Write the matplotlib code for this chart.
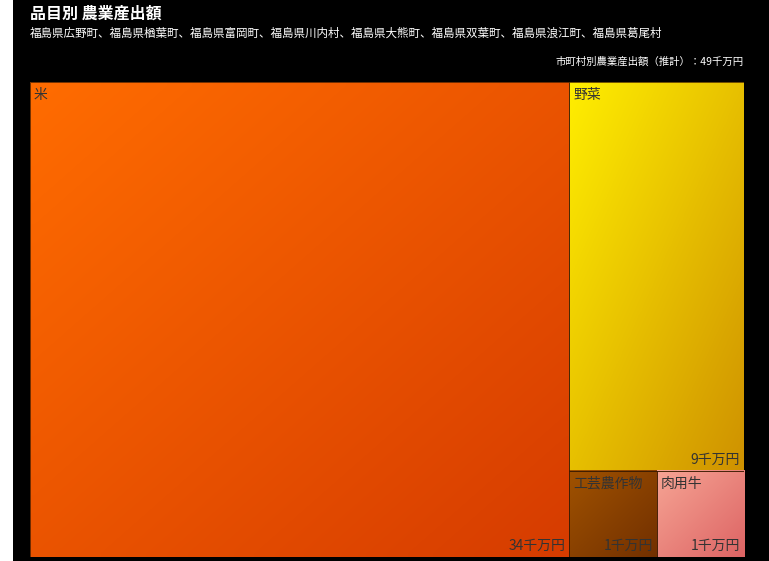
import matplotlib.pyplot as plt
import numpy as np
from matplotlib.colors import LinearSegmentedColormap
from matplotlib.patches import Rectangle

plt.rcParams['font.family'] = ['Noto Sans CJK JP', 'DejaVu Sans']

items = ['米', '野菜', '工芸農作物', '肉用牛']
values = [34, 9, 1, 1]
value_labels = ['34千万円', '9千万円', '1千万円', '1千万円']
# (top-left, bottom-right) gradient colours
grad_colors = [('#ff6c00', '#d63c00'),
               ('#ffee00', '#cf9200'),
               ('#a05200', '#723000'),
               ('#f6a494', '#dd6464')]

title = '品目別 農業産出額'
subtitle = ('福島県広野町、福島県楢葉町、福島県富岡町、福島県川内村、福島県大熊町、'
            '福島県双葉町、福島県浪江町、福島県葛尾村')
total_label = '市町村別農業産出額（推計）：49千万円'

W, H = 769, 561
box = (30, 82, 714, 475)  # left, top, width, height in pixels


def worst(row, side):
    s = sum(row)
    return max(max(side * side * r / (s * s), s * s / (side * side * r)) for r in row)


def squarify(vals, x, y, w, h):
    # vals already scaled to area
    rects = []
    vals = list(vals)
    while vals:
        side = min(w, h)
        row = [vals.pop(0)]
        while vals and worst(row + [vals[0]], side) <= worst(row, side):
            row.append(vals.pop(0))
        s = sum(row)
        if w >= h:
            rw = s / h
            yy = y
            for r in row:
                rh = r / rw
                rects.append((x, yy, rw, rh))
                yy += rh
            x += rw
            w -= rw
        else:
            rh = s / w
            xx = x
            for r in row:
                rw = r / rh
                rects.append((xx, y, rw, rh))
                xx += rw
            y += rh
            h -= rh
    return rects


fig = plt.figure(figsize=(W / 100, H / 100), dpi=100, facecolor='black')
fig.patches.append(Rectangle((0, 0), 13 / W, 1, transform=fig.transFigure,
                             facecolor='white', edgecolor='none'))

ax = fig.add_axes([box[0] / W, 1 - (box[1] + box[3]) / H, box[2] / W, box[3] / H])
ax.axis('off')

total = sum(values)
areas = [v / total * box[2] * box[3] for v in values]
rects = squarify(areas, 0, 0, box[2], box[3])

for (x, y, w, h), name, lab, (c1, c2) in zip(rects, items, value_labels, grad_colors):
    cmap = LinearSegmentedColormap.from_list('g', [c1, c2])
    gx, gy = np.meshgrid(np.linspace(0, 1, 64), np.linspace(0, 1, 64))
    ax.imshow((gx + gy) / 2, cmap=cmap, extent=(x, x + w, y + h, y),
              aspect='auto', interpolation='bilinear', vmin=0, vmax=1)
    ax.add_patch(Rectangle((x, y), w, h, facecolor='none', edgecolor='#3a1a00',
                           linewidth=0.5))
    ax.text(x + 4, y + 6, name, color='#333333', fontsize=10, va='top', ha='left')
    ax.text(x + w - 4, y + h - 4, lab, color='#333333', fontsize=10,
            va='bottom', ha='right')
ax.set_xlim(0, box[2])
ax.set_ylim(box[3], 0)

fig.text(30 / W, 1 - 14 / H, title, color='white', fontsize=11.5,
         fontweight='bold', va='center', ha='left')
fig.text(30 / W, 1 - 33 / H, subtitle, color='white', fontsize=8.3,
         va='center', ha='left')
fig.text(744 / W, 1 - 62 / H, total_label, color='white', fontsize=7.5,
         va='center', ha='right')

fig.savefig('out.png', dpi=100, facecolor='black')
